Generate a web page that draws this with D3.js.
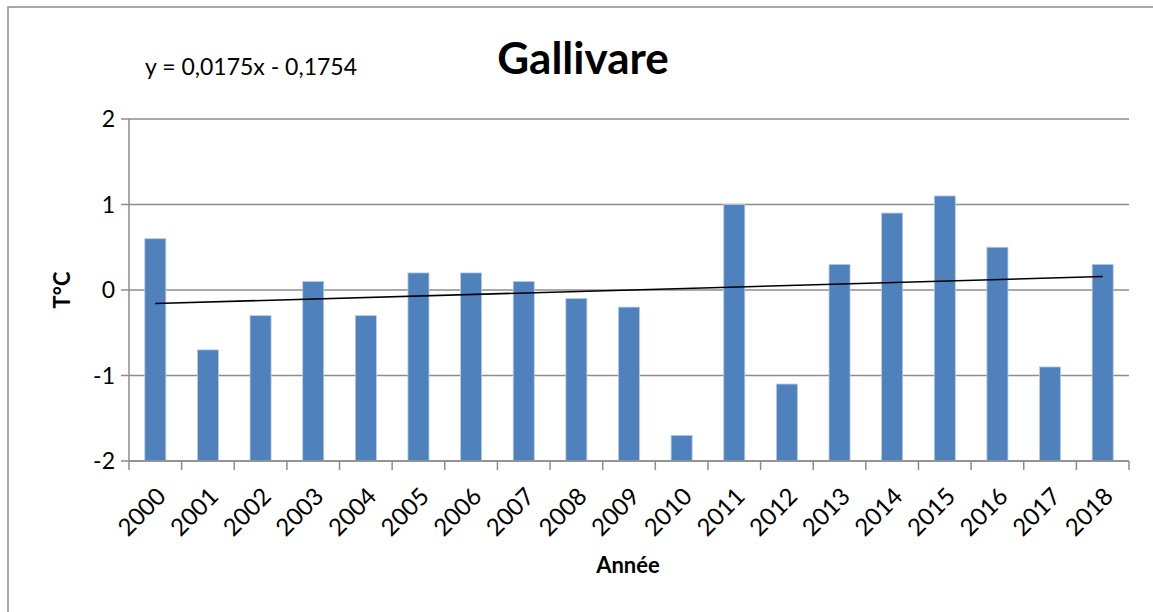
<!DOCTYPE html>
<html>
<head>
<meta charset="utf-8">
<script src="https://cdn.jsdelivr.net/npm/d3@7"></script>
<style>
  body { margin: 0; background: #fff; }
  text { font-family: Lato, "Open Sans", sans-serif; fill: #000; }
</style>
</head>
<body>
<div id="chart"></div>
<script>
// data
const years = ["2000","2001","2002","2003","2004","2005","2006","2007","2008","2009",
               "2010","2011","2012","2013","2014","2015","2016","2017","2018"];
const anomalies = [0.6, -0.7, -0.3, 0.1, -0.3, 0.2, 0.2, 0.1, -0.1, -0.2,
                   -1.7, 1.0, -1.1, 0.3, 0.9, 1.1, 0.5, -0.9, 0.3];
const yTicks = [-2, -1, 0, 1, 2];
// linear trend shown on the chart (x = 1..n)
const trendSlope = 0.0175;
const trendIntercept = -0.1754;

const width = 1153, height = 612;
const margin = { top: 119, right: 24, bottom: 151, left: 129 };

const svg = d3.select("#chart").append("svg")
  .attr("width", width)
  .attr("height", height);

// outer chart frame
svg.append("rect")
  .attr("x", 8).attr("y", 7)
  .attr("width", width + 20).attr("height", height + 20)
  .attr("fill", "#fff")
  .attr("stroke", "#8c8c8c")
  .attr("stroke-width", 1.5);

const x = d3.scaleBand()
  .domain(years)
  .range([margin.left, width - margin.right])
  .paddingInner(0.6)
  .paddingOuter(0.3);

const y = d3.scaleLinear()
  .domain([-2, 2])
  .range([height - margin.bottom, margin.top]);

// horizontal axis crosses at the minimum, bars grow from there
const base = -2;

// horizontal gridlines
svg.append("g")
  .selectAll("line")
  .data(yTicks)
  .join("line")
  .attr("x1", margin.left - 8)
  .attr("x2", width - margin.right)
  .attr("y1", d => y(d))
  .attr("y2", d => y(d))
  .attr("stroke", "#8c8c8c")
  .attr("stroke-width", 1.5);

// y axis line + labels
svg.append("line")
  .attr("x1", margin.left).attr("x2", margin.left)
  .attr("y1", y(2)).attr("y2", y(-2))
  .attr("stroke", "#8c8c8c")
  .attr("stroke-width", 1.5);

svg.append("g")
  .selectAll("text")
  .data(yTicks)
  .join("text")
  .attr("x", margin.left - 14)
  .attr("y", d => y(d))
  .attr("dy", "0.36em")
  .attr("text-anchor", "end")
  .attr("font-size", 23)
  .text(d => d);

// bars
svg.append("g")
  .selectAll("rect")
  .data(anomalies)
  .join("rect")
  .attr("x", (d, i) => x(years[i]))
  .attr("width", x.bandwidth())
  .attr("y", d => y(d))
  .attr("height", d => y(base) - y(d))
  .attr("fill", "#4f81bd")
  .attr("stroke", "#b9cde5")
  .attr("stroke-width", 0.8);

// x axis at bottom with ticks between categories
const xAxisY = y(base);
const step = x.step();
const bounds = d3.range(years.length + 1).map(i => margin.left + i * step);

svg.append("line")
  .attr("x1", margin.left).attr("x2", width - margin.right)
  .attr("y1", xAxisY).attr("y2", xAxisY)
  .attr("stroke", "#8c8c8c")
  .attr("stroke-width", 1.5);

svg.append("g")
  .selectAll("line")
  .data(bounds)
  .join("line")
  .attr("x1", d => d).attr("x2", d => d)
  .attr("y1", xAxisY).attr("y2", xAxisY + 9)
  .attr("stroke", "#8c8c8c")
  .attr("stroke-width", 1.5);

svg.append("g")
  .selectAll("text")
  .data(years)
  .join("text")
  .attr("transform", d => `translate(${x(d) + x.bandwidth() / 2 + 12},${xAxisY + 37}) rotate(-45)`)
  .attr("text-anchor", "end")
  .attr("font-size", 24)
  .text(d => d);

// trend line
const trend = [1, years.length].map(n => ({ n, v: trendSlope * n + trendIntercept }));
svg.append("path")
  .datum(trend)
  .attr("fill", "none")
  .attr("stroke", "#000")
  .attr("stroke-width", 1.6)
  .attr("d", d3.line()
    .x(d => x(years[d.n - 1]) + x.bandwidth() / 2)
    .y(d => y(d.v)));

// titles
svg.append("text")
  .attr("x", 583).attr("y", 74)
  .attr("text-anchor", "middle")
  .attr("font-size", 44)
  .attr("font-weight", "bold")
  .text("Gallivare");

svg.append("text")
  .attr("x", 145).attr("y", 75)
  .attr("font-size", 23)
  .text("y = 0,0175x - 0,1754");

svg.append("text")
  .attr("x", 628).attr("y", 573)
  .attr("text-anchor", "middle")
  .attr("font-size", 22)
  .attr("font-weight", "bold")
  .text("Année");

svg.append("text")
  .attr("transform", `translate(70,${y(0)}) rotate(-90)`)
  .attr("text-anchor", "middle")
  .attr("font-size", 22)
  .attr("font-weight", "bold")
  .text("T°C");
</script>
</body>
</html>
